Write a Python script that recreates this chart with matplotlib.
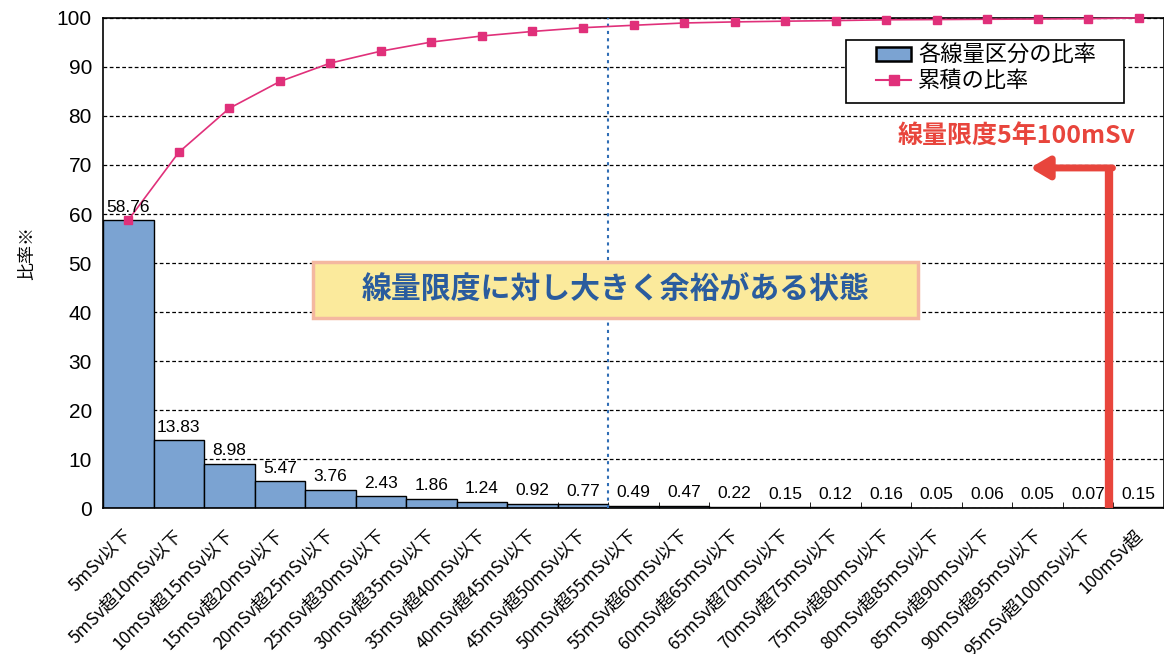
import matplotlib.pyplot as plt
import numpy as np
from matplotlib.patches import Patch, Rectangle
from matplotlib.lines import Line2D
from matplotlib.transforms import ScaledTranslation

plt.rcParams['font.family'] = ['Noto Sans CJK JP', 'DejaVu Sans']

categories = [
    "5mSv以下", "5mSv超10mSv以下", "10mSv超15mSv以下", "15mSv超20mSv以下",
    "20mSv超25mSv以下", "25mSv超30mSv以下", "30mSv超35mSv以下", "35mSv超40mSv以下",
    "40mSv超45mSv以下", "45mSv超50mSv以下", "50mSv超55mSv以下", "55mSv超60mSv以下",
    "60mSv超65mSv以下", "65mSv超70mSv以下", "70mSv超75mSv以下", "75mSv超80mSv以下",
    "80mSv超85mSv以下", "85mSv超90mSv以下", "90mSv超95mSv以下", "95mSv超100mSv以下",
    "100mSv超",
]
ratio = [58.76, 13.83, 8.98, 5.47, 3.76, 2.43, 1.86, 1.24, 0.92, 0.77,
         0.49, 0.47, 0.22, 0.15, 0.12, 0.16, 0.05, 0.06, 0.05, 0.07, 0.15]
cumulative = [58.76, 72.59, 81.57, 87.04, 90.80, 93.23, 95.09, 96.33, 97.25, 98.02,
              98.51, 98.98, 99.20, 99.35, 99.47, 99.63, 99.68, 99.74, 99.79, 99.86, 100.01]

BAR_COLOR = "#7BA3D2"
LINE_COLOR = "#E0307A"
RED = "#E8453C"

fig = plt.figure(figsize=(11.64, 6.54), dpi=100)
ax = fig.add_axes([0.0885, 0.2232, 0.9115, 0.7493])

x = np.arange(len(categories))
ax.bar(x, ratio, width=1.0, color=BAR_COLOR, edgecolor="black", linewidth=1.0, zorder=2)
ax.plot(x, cumulative, color=LINE_COLOR, lw=1.2, marker="s", ms=6,
        mfc=LINE_COLOR, mec=LINE_COLOR, zorder=4, clip_on=False)

for xi, v in zip(x, ratio):
    ax.annotate(f"{v:.2f}", (xi, v), xytext=(0, 4), textcoords="offset points",
                ha="center", va="bottom", fontsize=12.5, family=["Liberation Sans"],
                zorder=5)

ax.set_xlim(-0.5, len(categories) - 0.5)
ax.set_ylim(0, 100)
ax.set_yticks(range(0, 101, 10))
ax.tick_params(axis="y", labelsize=15, length=0, pad=8)
for lab in ax.get_yticklabels():
    lab.set_family(["Liberation Sans"])
ax.set_xticks(x)
ax.set_xticklabels(categories, rotation=45, ha="right", rotation_mode="anchor",
                   fontsize=12.5)
ax.tick_params(axis="x", length=0, pad=13)
# ラベルの右上端をバー中心より少し左へ
shift = ScaledTranslation(-4 / 72, 0, fig.dpi_scale_trans)
for lab in ax.get_xticklabels():
    lab.set_transform(lab.get_transform() + shift)
ax.set_xticks(np.arange(-0.5, len(categories), 1.0), minor=True)
ax.tick_params(axis="x", which="minor", length=4, direction="in")

ax.yaxis.grid(True, color="black", ls=(0, (3, 2)), lw=0.9, zorder=0)
for s in ax.spines.values():
    s.set_linewidth(1.2)

ax.set_ylabel("比率※", fontsize=13)
ax.yaxis.set_label_coords(-0.063, 0.52)

# boundary line
ax.axvline(9.5, color="#2F6DB5", ls=(0, (1.5, 2)), lw=1.5, zorder=3)

# central message box
ax.add_patch(Rectangle((3.66, 38.8), 11.98, 11.4, facecolor="#FBEA9C",
                       edgecolor="#F4B8A0", linewidth=2.5, zorder=5))
ax.text(9.65, 44.5, "線量限度に対し大きく余裕がある状態", ha="center", va="center",
        fontsize=21.5, fontweight="bold", color="#2A5C9E", zorder=6)

# red limit arrow
ax.plot([19.42, 19.42], [0, 69.4], color=RED, lw=6, solid_capstyle="butt", zorder=6)
ax.annotate("", xy=(17.85, 69.4), xytext=(19.48, 69.4),
            arrowprops=dict(arrowstyle="-|>,head_length=1.1,head_width=0.65",
                            color=RED, lw=5, shrinkA=0, shrinkB=0), zorder=6)
ax.text(17.58, 75.7, "線量限度5年100mSv", ha="center", va="center",
        fontsize=18, fontweight="bold", color=RED, zorder=6)

# legend (frame drawn separately for the wide padding)
ax.add_patch(Rectangle((0.7003, 0.8265), 0.262, 0.1286, transform=ax.transAxes,
                       facecolor="white", edgecolor="black", lw=1.2, zorder=7))
handles = [Patch(facecolor=BAR_COLOR, edgecolor="black", linewidth=1.8),
           Line2D([0], [0], color=LINE_COLOR, marker="s", ms=7, lw=1.5)]
leg = ax.legend(handles, ["各線量区分の比率", "累積の比率"], loc="upper left",
                bbox_to_anchor=(0.7285, 0.947), fontsize=16, frameon=False,
                handlelength=1.6, handleheight=0.6, handletextpad=0.3,
                borderpad=0, labelspacing=0.1, borderaxespad=0)
leg.set_zorder(8)

fig.savefig("out.png", dpi=100)
